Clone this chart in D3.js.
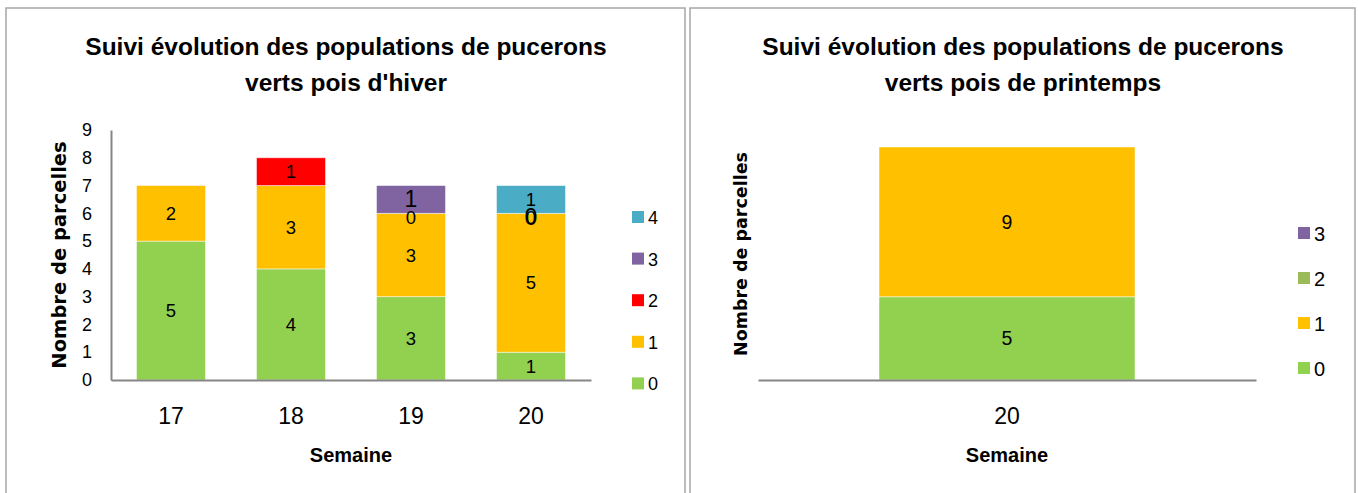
<!DOCTYPE html>
<html>
<head>
<meta charset="utf-8">
<script src="https://cdn.jsdelivr.net/npm/d3@7"></script>
<style>
  body { margin: 0; background: #fff; }
  svg { display: block; }
  .title { font-family: "Liberation Sans Narrow", "Liberation Sans", sans-serif; font-weight: bold; font-size: 24.5px; fill: #000; }
  .num { font-family: "Liberation Sans", sans-serif; fill: #000; }
  .ytitle { font-family: "DejaVu Sans", sans-serif; font-weight: bold; fill: #000; }
  .xtitle { font-family: "Liberation Sans Narrow", "Liberation Sans", sans-serif; font-weight: bold; font-size: 20px; fill: #000; }
</style>
</head>
<body>
<svg id="chart" width="1358" height="493"></svg>
<script>
// pois d'hiver
let weeksHiver = ["17", "18", "19", "20"];
let classesHiver = ["0", "1", "2", "3", "4"];
let hiver0 = [5, 4, 3, 1];
let hiver1 = [2, 3, 3, 5];
let hiver2 = [null, 1, 0, 0];
let hiver3 = [null, null, 1, 0];
let hiver4 = [null, null, null, 1];
let ticksHiver = [0, 1, 2, 3, 4, 5, 6, 7, 8, 9];

// pois de printemps
let weeksPrintemps = ["20"];
let classesPrintemps = ["0", "1", "2", "3"];
let printemps0 = [5];
let printemps1 = [9];
let printemps2 = [null];
let printemps3 = [null];

let colorsHiver = { "0": "#92d050", "1": "#ffc000", "2": "#ff0000", "3": "#8064a2", "4": "#4bacc6" };
let colorsPrintemps = { "0": "#92d050", "1": "#ffc000", "2": "#9bbb59", "3": "#8064a2" };

let svg = d3.select("#chart");

// panel frames
svg.append("rect").attr("x", 6).attr("y", 8).attr("width", 679).attr("height", 500)
  .attr("fill", "none").attr("stroke", "#a6a6a6").attr("stroke-width", 1.5);
svg.append("rect").attr("x", 690).attr("y", 8).attr("width", 665).attr("height", 500)
  .attr("fill", "none").attr("stroke", "#a6a6a6").attr("stroke-width", 1.5);

function buildRows(weeks, classes, series) {
  return weeks.map((w, i) => {
    let row = { week: w };
    classes.forEach((c, j) => { row[c] = series[j][i]; });
    return row;
  });
}

function drawChart(opts) {
  let g = svg.append("g");
  let rows = buildRows(opts.weeks, opts.classes, opts.series);

  let stack = d3.stack()
    .keys(opts.classes)
    .value((d, k) => d[k] == null ? 0 : d[k]);
  let layers = stack(rows);

  let x = d3.scaleBand()
    .domain(opts.weeks)
    .range(opts.xRange)
    .paddingInner(opts.padIn)
    .paddingOuter(opts.padIn / 2);

  let y = d3.scaleLinear()
    .domain(opts.yDomain)
    .range(opts.yRange);

  // bars
  g.selectAll(".layer")
    .data(layers)
    .join("g")
    .attr("class", "layer")
    .attr("fill", d => opts.colors[d.key])
    .selectAll("rect")
    .data(d => d)
    .join("rect")
    .attr("x", d => x(d.data.week))
    .attr("width", x.bandwidth())
    .attr("y", d => y(d[1]))
    .attr("height", d => y(d[0]) - y(d[1]))
    .attr("stroke", "#ffffff")
    .attr("stroke-opacity", 0.6)
    .attr("stroke-width", 0.8);

  // data labels (zero values too, like excel does)
  let labels = [];
  layers.forEach(layer => {
    layer.forEach(p => {
      let v = p.data[layer.key];
      if (v != null) labels.push({ key: layer.key, week: p.data.week, v: v, mid: (p[0] + p[1]) / 2 });
    });
  });
  g.selectAll(".lbl")
    .data(labels)
    .join("text")
    .attr("class", "num lbl")
    .attr("x", d => x(d.week) + x.bandwidth() / 2)
    .attr("y", d => y(d.mid) + (d.v === 0 ? 4 : 0))
    .attr("text-anchor", "middle")
    .attr("dominant-baseline", "central")
    .style("font-size", d => (opts.bigLabelKey === d.key ? 23 : opts.labelSize) + "px")
    .text(d => d.v);

  // x axis
  let xAxis = g.append("g")
    .attr("transform", `translate(0,${opts.yRange[0]})`)
    .call(d3.axisBottom(x).tickSize(0).tickPadding(28));
  xAxis.select(".domain").attr("stroke", "#868686").attr("stroke-width", 2);
  xAxis.selectAll("text").attr("class", "num").style("font-size", "23px");

  // y axis
  if (opts.yTicks) {
    let yAxis = g.append("g")
      .attr("transform", `translate(${opts.xRange[0]},0)`)
      .call(d3.axisLeft(y).tickValues(opts.yTicks).tickSize(0).tickPadding(19).tickFormat(d3.format("d")));
    yAxis.select(".domain").attr("stroke", "#868686").attr("stroke-width", 2);
    yAxis.selectAll("text").attr("class", "num").style("font-size", "18px");
  }

  // titles
  let cx = opts.titleX;
  g.append("text").attr("class", "title").attr("x", cx).attr("y", 55)
    .attr("text-anchor", "middle").text(opts.title[0]);
  g.append("text").attr("class", "title").attr("x", cx).attr("y", 91)
    .attr("text-anchor", "middle").text(opts.title[1]);

  g.append("text").attr("class", "xtitle")
    .attr("x", (opts.xRange[0] + opts.xRange[1]) / 2)
    .attr("y", opts.yRange[0] + 82)
    .attr("text-anchor", "middle")
    .text("Semaine");

  g.append("text").attr("class", "ytitle")
    .attr("transform", `translate(${opts.yTitleX},${opts.yTitleY}) rotate(-90)`)
    .attr("text-anchor", "middle")
    .attr("dominant-baseline", "central")
    .style("font-size", opts.yTitleSize)
    .text("Nombre de parcelles");

  // legend, highest class on top
  let legendKeys = opts.classes.slice().reverse();
  let leg = g.selectAll(".leg")
    .data(legendKeys)
    .join("g")
    .attr("class", "leg")
    .attr("transform", (d, i) => `translate(${opts.legendX},${opts.legendY + i * opts.legendStep})`);
  leg.append("rect").attr("x", 0).attr("y", -6).attr("width", 12).attr("height", 12)
    .attr("fill", d => opts.colors[d]);
  leg.append("text").attr("class", "num").attr("x", 16).attr("y", 1)
    .attr("dominant-baseline", "central").style("font-size", opts.legendSize).text(d => d);
}

drawChart({
  weeks: weeksHiver,
  classes: classesHiver,
  series: [hiver0, hiver1, hiver2, hiver3, hiver4],
  colors: colorsHiver,
  xRange: [111, 591],
  padIn: 0.425,
  yDomain: [0, 9],
  yRange: [380, 130],
  yTicks: ticksHiver,
  labelSize: 18.5,
  bigLabelKey: "3",
  title: ["Suivi évolution des populations de pucerons", "verts pois d'hiver"],
  titleX: 346,
  yTitleX: 59,
  yTitleY: 255,
  yTitleSize: "19.5px",
  legendX: 632,
  legendY: 217,
  legendStep: 41.6,
  legendSize: "18px"
});

drawChart({
  weeks: weeksPrintemps,
  classes: classesPrintemps,
  series: [printemps0, printemps1, printemps2, printemps3],
  colors: colorsPrintemps,
  xRange: [758, 1256],
  padIn: 0.486,
  yDomain: [0, 14],
  yRange: [380, 147],
  yTicks: null,
  labelSize: 19.5,
  bigLabelKey: null,
  title: ["Suivi évolution des populations de pucerons", "verts pois de printemps"],
  titleX: 1023,
  yTitleX: 741,
  yTitleY: 254,
  yTitleSize: "17.5px",
  legendX: 1298,
  legendY: 233,
  legendStep: 45,
  legendSize: "20px"
});
</script>
</body>
</html>
